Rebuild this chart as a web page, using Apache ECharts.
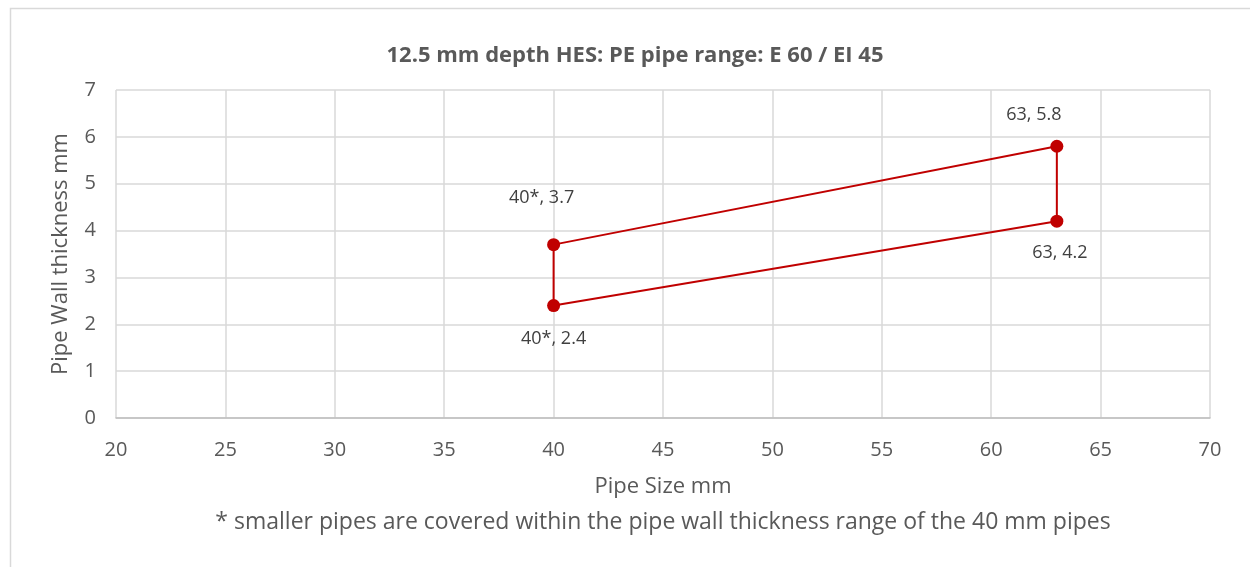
<!DOCTYPE html>
<html><head><meta charset="utf-8">
<script src="https://cdn.jsdelivr.net/npm/echarts@6/dist/echarts.min.js"></script>
<style>html,body{margin:0;padding:0;background:#fff}#c{width:1250px;height:567px}</style>
</head><body><div id="c"></div>
<script>
const pipeSize = [40, 63, 63, 40, 40];
const wallThickness = [3.7, 5.8, 4.2, 2.4, 3.7];
const pointLabels = ['40*, 3.7', '63, 5.8', '63, 4.2', '40*, 2.4', ''];
const xTicks = [20, 25, 30, 35, 40, 45, 50, 55, 60, 65, 70];
const yTicks = [0, 1, 2, 3, 4, 5, 6, 7];
const titleText = '12.5 mm depth HES: PE pipe range: E 60 / EI 45';
const footnote = '* smaller pipes are covered within the pipe wall thickness range of the 40 mm pipes';

const labelOffsets = [[-12, -47], [-23, -31], [3, 32], [0, 33], [0, 0]];
const FONT = '"Open Sans", sans-serif';
const data = pipeSize.map((x, i) => ({
  value: [x, wallThickness[i]],
  symbolSize: i === 4 ? 0 : 13,
  label: {show: i < 4, formatter: pointLabels[i], offset: labelOffsets[i], position: 'inside'}
}));

const chart = echarts.init(document.getElementById('c'));
chart.setOption({
  animation: false,
  title: {text: titleText, left: 630, top: 40, textAlign: 'center',
    textStyle: {fontFamily: FONT, fontSize: 22, fontWeight: 'bold', color: '#595959'}},
  grid: {left: 116, right: 40, top: 90, bottom: 149},
  xAxis: {type: 'value', min: xTicks[0], max: xTicks[xTicks.length - 1], interval: 5,
    name: 'Pipe Size mm', nameLocation: 'middle', nameGap: 58,
    nameTextStyle: {fontFamily: FONT, fontSize: 22, color: '#595959'},
    axisLine: {show: true, lineStyle: {color: '#bfbfbf', width: 1.5}},
    axisTick: {show: false},
    axisLabel: {fontFamily: FONT, fontSize: 20, color: '#595959', margin: 22},
    splitLine: {show: true, lineStyle: {color: '#d9d9d9', width: 1.5}}},
  yAxis: {type: 'value', min: yTicks[0], max: yTicks[yTicks.length - 1], interval: 1,
    name: 'Pipe Wall thickness mm', nameLocation: 'middle', nameGap: 44,
    nameTextStyle: {fontFamily: FONT, fontSize: 22, color: '#595959'},
    axisLine: {show: false}, axisTick: {show: false},
    axisLabel: {fontFamily: FONT, fontSize: 20, color: '#595959', margin: 20},
    splitLine: {show: true, lineStyle: {color: '#d9d9d9', width: 1.5}}},
  graphic: [
    {type: 'rect', left: 8, top: 6, shape: {width: 1250, height: 600},
      style: {fill: 'none', stroke: '#d9d9d9', lineWidth: 1.5}, silent: true},
    {type: 'text', x: 663, y: 522,
      style: {text: footnote, font: '23px "Open Sans", sans-serif', fill: '#595959',
        textAlign: 'center', textVerticalAlign: 'middle'}}
  ],
  series: [{
    type: 'line', data: data, symbol: 'circle',
    itemStyle: {color: '#C00000'},
    lineStyle: {color: '#C00000', width: 2},
    label: {fontFamily: FONT, fontSize: 18, color: '#404040'}
  }]
});
</script></body></html>
